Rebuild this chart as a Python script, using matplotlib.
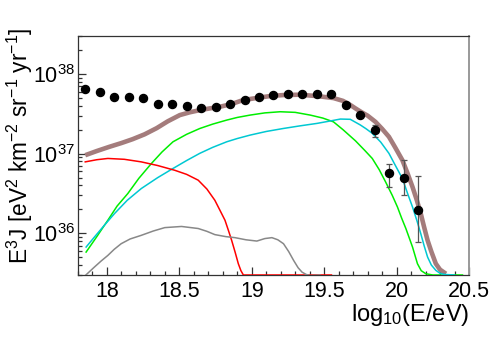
import numpy as np
import matplotlib
matplotlib.use('Agg')
from matplotlib import pyplot as plt
from matplotlib.ticker import MultipleLocator, LogLocator, NullFormatter

plt.rcParams['font.family'] = ['Liberation Sans', 'DejaVu Sans']
plt.rcParams['mathtext.fontset'] = 'custom'
plt.rcParams['mathtext.rm'] = 'Liberation Sans'
plt.rcParams['mathtext.it'] = 'Liberation Sans:italic'
plt.rcParams['mathtext.default'] = 'regular'

# measured points, E^3 J in eV^2 km^-2 sr^-1 yr^-1
data_x = [17.85, 17.95, 18.05, 18.15, 18.25, 18.35, 18.45, 18.55, 18.65, 18.75, 18.85, 18.95,
          19.05, 19.15, 19.25, 19.35, 19.45, 19.55, 19.65, 19.75, 19.85, 19.95, 20.05, 20.15]
data_y = [6.47e37, 5.89e37, 5.18e37, 5.14e37, 4.94e37, 4.23e37, 4.16e37, 3.93e37, 3.77e37, 3.81e37, 4.23e37, 4.67e37,
          5.18e37, 5.50e37, 5.60e37, 5.55e37, 5.55e37, 5.65e37, 4.11e37, 3.10e37, 1.96e37, 5.64e36, 4.97e36, 1.95e36]
data_hi = [0, 0, 0, 0, 0, 0, 0, 0, 0, 0, 0, 0,
           0, 0, 0, 0, 0, 0, 0, 0, 2.28e37, 7.5e36, 8.3e36, 5.2e36]
data_lo = [0, 0, 0, 0, 0, 0, 0, 0, 0, 0, 0, 0,
           0, 0, 0, 0, 0, 0, 0, 0, 1.63e37, 3.83e36, 3.0e36, 7.7e35]

# model components
total_x = [17.85, 17.93, 18.017, 18.1, 18.177, 18.26, 18.343, 18.42, 18.503, 18.57, 18.641, 18.71, 18.78,
           18.86, 18.94, 19.05, 19.13, 19.217, 19.33, 19.453, 19.564, 19.63, 19.682, 19.716, 19.76, 19.8,
           19.854, 19.9, 19.947, 19.99, 20.04, 20.075, 20.11, 20.14, 20.167, 20.19, 20.214, 20.24, 20.271,
           20.3, 20.341]
total_y = [9.57e36, 1.08e37, 1.22e37, 1.36e37, 1.52e37, 1.75e37, 2.09e37, 2.55e37, 3.05e37, 3.3e37, 3.52e37,
           3.7e37, 3.88e37, 4.2e37, 4.71e37, 5.05e37, 5.3e37, 5.44e37, 5.5e37, 5.28e37, 4.99e37, 4.6e37, 4.07e37,
           3.7e37, 3.3e37, 3.0e37, 2.51e37, 2.05e37, 1.63e37, 1.2e37, 8.28e36, 5.7e36, 3.82e36, 2.6e36, 1.77e36,
           1.2e36, 8.17e35, 5.9e35, 4.16e35, 3.5e35, 3.11e35]

green_x = [17.856, 17.93, 18.006, 18.07, 18.144, 18.22, 18.307, 18.38, 18.456, 18.55, 18.641, 18.73, 18.827,
           18.9, 18.988, 19.09, 19.196, 19.3, 19.404, 19.49, 19.564, 19.63, 19.716, 19.78, 19.832, 19.88,
           19.924, 19.97, 20.006, 20.035, 20.064, 20.09, 20.11, 20.144, 20.17, 20.202, 20.25, 20.455]
green_y = [5.82e35, 9.1e35, 1.46e36, 2.2e36, 3.16e36, 4.9e36, 7.53e36, 1.05e37, 1.41e37, 1.75e37, 2.07e37,
           2.35e37, 2.64e37, 2.85e37, 3.05e37, 3.25e37, 3.36e37, 3.3e37, 3.05e37, 2.8e37, 2.51e37, 2.0e37,
           1.45e37, 1.1e37, 8.71e36, 6.3e36, 4.42e36, 3.0e36, 2.14e36, 1.55e36, 1.15e36, 8.5e35, 6.73e35,
           4.16e35, 3.4e35, 3.11e35, 3.0e35, 3.0e35]

cyan_x = [17.856, 17.913, 17.98, 18.052, 18.14, 18.237, 18.35, 18.456, 18.55, 18.641, 18.73, 18.827, 18.9,
          18.988, 19.1, 19.217, 19.33, 19.451, 19.53, 19.612, 19.68, 19.75, 19.79, 19.832, 19.89, 19.947,
          19.99, 20.04, 20.075, 20.11, 20.14, 20.167, 20.19, 20.214, 20.24, 20.271, 20.3, 20.329, 20.4]
cyan_y = [6.73e35, 8.97e35, 1.25e36, 1.77e36, 2.6e36, 3.65e36, 5.0e36, 6.52e36, 8.2e36, 1.01e37, 1.2e37,
          1.41e37, 1.55e37, 1.71e37, 1.9e37, 2.07e37, 2.23e37, 2.40e37, 2.55e37, 2.72e37, 2.7e37, 2.29e37,
          2.05e37, 1.80e37, 1.4e37, 1.01e37, 7.2e36, 4.88e36, 3.2e36, 2.14e36, 1.45e36, 9.91e35, 7.0e35,
          5.04e35, 4.0e35, 3.43e35, 3.15e35, 3.05e35, 3.0e35]

red_x = [17.85, 17.93, 18.006, 18.12, 18.237, 18.35, 18.468, 18.55, 18.63, 18.69, 18.745, 18.78, 18.815,
         18.84, 18.861, 18.885, 18.907, 18.925, 18.942, 19.0, 19.55]
red_y = [7.89e36, 8.4e36, 8.71e36, 8.5e36, 7.89e36, 7.1e36, 6.19e36, 5.5e36, 4.65e36, 3.6e36, 2.6e36,
         1.95e36, 1.46e36, 1.07e36, 8.17e35, 5.8e35, 4.16e35, 3.4e35, 3.0e35, 3.0e35, 3.0e35]

gray_x = [17.85, 17.913, 17.96, 18.006, 18.05, 18.098, 18.16, 18.237, 18.32, 18.399, 18.515, 18.63, 18.69,
          18.745, 18.82, 18.884, 18.96, 19.035, 19.09, 19.139, 19.18, 19.219, 19.255, 19.289, 19.32, 19.347,
          19.375, 19.404, 19.47]
gray_y = [2.95e35, 3.77e35, 4.5e35, 5.28e35, 6.3e35, 7.41e35, 8.5e35, 9.44e35, 1.07e36, 1.18e36, 1.22e36,
          1.15e36, 1.06e36, 9.64e35, 9.1e35, 8.83e35, 8.3e35, 8.0e35, 8.6e35, 8.83e35, 8.3e35, 7.41e35,
          5.9e35, 4.57e35, 3.7e35, 3.26e35, 3.05e35, 2.95e35, 3.0e35]

fig = plt.figure(figsize=(4.98, 3.39), dpi=100)
ax = fig.add_axes([78 / 498, 64 / 339, 391 / 498, 239 / 339])

ax.plot(total_x, total_y, color='#a47c7c', lw=3.3, zorder=2, solid_capstyle='butt')
ax.plot(green_x, green_y, color='#00ee00', lw=1.1, zorder=3)
ax.plot(cyan_x, cyan_y, color='#00c8d2', lw=1.1, zorder=3)
ax.plot(red_x, red_y, color='#ff0000', lw=1.1, zorder=3)
ax.plot(gray_x, gray_y, color='#888888', lw=1.1, zorder=3)

dy = np.array(data_y)
err = [np.where(np.array(data_lo) > 0, dy - np.array(data_lo), 0),
       np.where(np.array(data_hi) > 0, np.array(data_hi) - dy, 0)]
ax.errorbar(data_x, data_y, yerr=err, fmt='o', color='k', ms=5.8, ecolor='#555555',
            elinewidth=0.9, capsize=2, capthick=0.9, zorder=5)

ax.set_yscale('log')
ax.set_xlim(17.8, 20.5)
ax.set_ylim(3e35, 3e38)

ax.xaxis.set_major_locator(MultipleLocator(0.5))
ax.xaxis.set_minor_locator(MultipleLocator(0.1))
ax.yaxis.set_major_locator(LogLocator(base=10))
ax.yaxis.set_minor_locator(LogLocator(base=10, subs=np.arange(2, 10)))
ax.yaxis.set_minor_formatter(NullFormatter())
ax.xaxis.set_major_formatter(matplotlib.ticker.FormatStrFormatter('%g'))

ax.tick_params(which='both', direction='in', top=False, right=False, colors='#333333',
               labelcolor='black', labelsize=15.5)
ax.tick_params(which='major', length=6, width=0.9)
ax.tick_params(which='minor', length=3, width=0.9)
ax.tick_params(axis='x', pad=4)
ax.tick_params(axis='y', pad=2)

for s in ['left', 'bottom', 'top']:
    ax.spines[s].set_color('#333333')
    ax.spines[s].set_linewidth(0.9)
ax.spines['right'].set_color('#999999')
ax.spines['right'].set_linewidth(1.4)

ax.set_xlabel(r'log$_{10}$(E/eV)', fontsize=17, loc='right', labelpad=0)
fig.text(20 / 498, 1 - 28 / 339, r'E$^{3}$J [eV$^{2}$ km$^{-2}$ sr$^{-1}$ yr$^{-1}$]',
         fontsize=16.3, rotation=90, ha='center', va='top')

fig.savefig('out.png', dpi=100)
